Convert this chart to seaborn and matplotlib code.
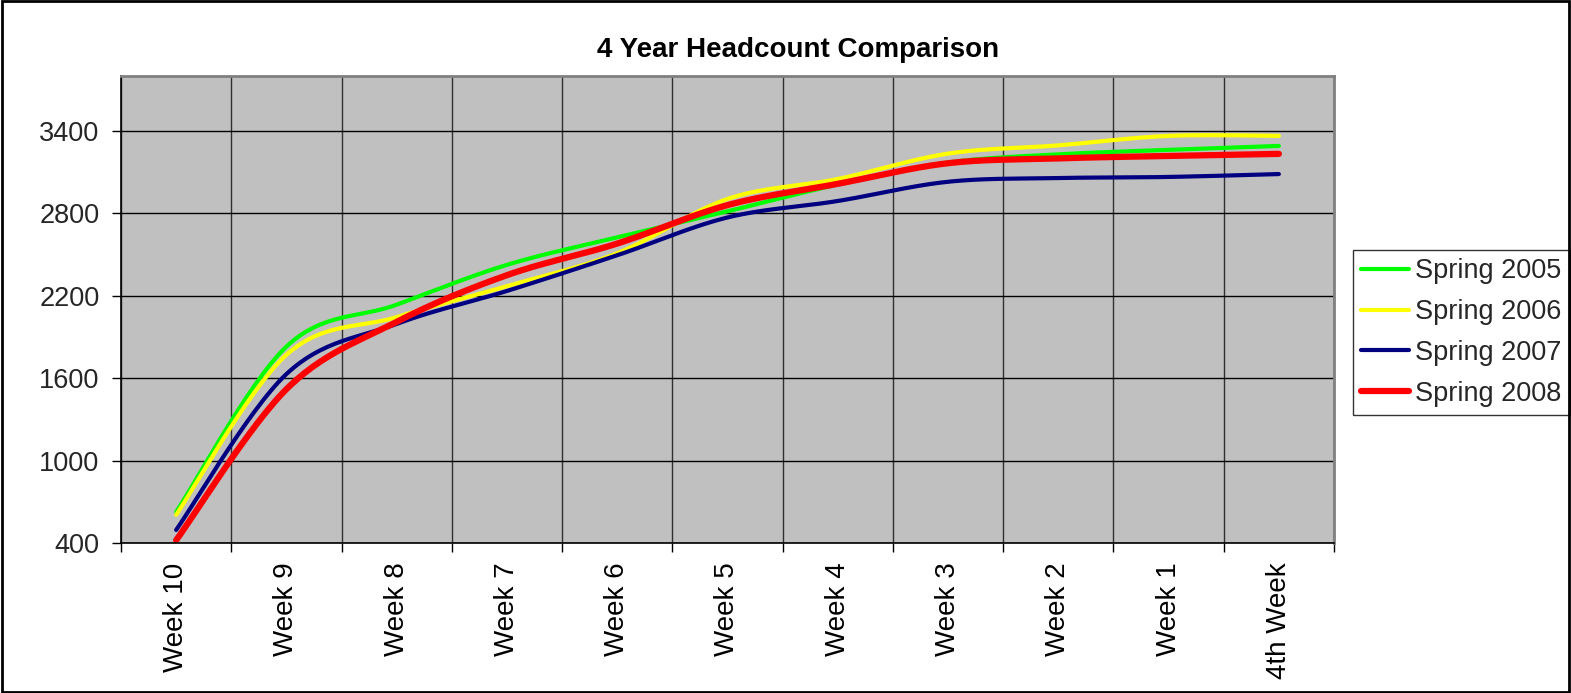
import numpy as np
import pandas as pd
import matplotlib
matplotlib.use("Agg")
import matplotlib.pyplot as plt
import seaborn as sns
from matplotlib.patches import Rectangle

weeks = ["Week 10", "Week 9", "Week 8", "Week 7", "Week 6", "Week 5",
         "Week 4", "Week 3", "Week 2", "Week 1", "4th Week"]
spring_2005 = [625, 1830, 2135, 2425, 2625, 2815, 3010, 3170, 3230, 3262, 3291]
spring_2006 = [605, 1770, 2045, 2270, 2510, 2905, 3050, 3235, 3295, 3364, 3364]
spring_2007 = [495, 1630, 1995, 2235, 2495, 2770, 2890, 3030, 3057, 3065, 3086]
spring_2008 = [420, 1520, 2010, 2350, 2580, 2860, 3015, 3165, 3200, 3218, 3233]

series_names = ["Spring 2005", "Spring 2006", "Spring 2007", "Spring 2008"]
series_values = [spring_2005, spring_2006, spring_2007, spring_2008]
colors = ["#00FF00", "#FFFF00", "#000080", "#FF0000"]
widths = [3.0, 3.0, 3.0, 4.5]


def smooth_curve(vals, n=30):
    """Excel-style smoothed line (Catmull-Rom Bezier) through the points."""
    y = np.asarray(vals, dtype=float)
    x = np.arange(len(y), dtype=float)
    xs, ys = [], []
    for i in range(len(y) - 1):
        i0 = max(i - 1, 0)
        i3 = min(i + 2, len(y) - 1)
        p0, p1, p2, p3 = (np.array([x[k], y[k]]) for k in (i0, i, i + 1, i3))
        c1 = p1 + (p2 - p0) / 6.0
        c2 = p2 - (p3 - p1) / 6.0
        t = np.linspace(0, 1, n, endpoint=(i == len(y) - 2))
        pts = ((1 - t) ** 3)[:, None] * p1 + (3 * (1 - t) ** 2 * t)[:, None] * c1 \
            + (3 * (1 - t) * t ** 2)[:, None] * c2 + (t ** 3)[:, None] * p2
        xs.append(pts[:, 0])
        ys.append(pts[:, 1])
    return np.concatenate(xs), np.concatenate(ys)


sns.set_theme(style="white")
plt.rcParams["font.family"] = ["Liberation Sans", "DejaVu Sans"]

fig = plt.figure(figsize=(15.71, 6.93), dpi=100)
ax = fig.add_axes([121 / 1571, 1 - 543 / 693, (1334 - 121) / 1571, (543 - 76) / 693])
ax.set_facecolor("#C0C0C0")

for name, vals, c, lw in zip(series_names, series_values, colors, widths):
    xs, ys = smooth_curve(vals)
    df = pd.DataFrame({"x": xs, "y": ys})
    sns.lineplot(data=df, x="x", y="y", ax=ax, color=c, linewidth=lw,
                 label=name, sort=False, estimator=None,
                 solid_capstyle="round")

ax.set_xlim(-0.5, len(weeks) - 0.5)
ax.set_ylim(400, 3800)
ax.set_yticks([400, 1000, 1600, 2200, 2800, 3400])
ax.set_yticklabels(["400", "1000", "1600", "2200", "2800", "3400"])
ax.set_xticks(np.arange(len(weeks)))
ax.set_xticklabels(weeks, rotation=90, va="top", ha="center")
ax.set_xticks(np.arange(len(weeks) + 1) - 0.5, minor=True)
ax.tick_params(axis="x", which="major", length=0, pad=14, labelsize=20, colors="black")
ax.tick_params(axis="x", which="minor", length=6.5, width=1, color="black", direction="out", bottom=True)
ax.tick_params(axis="y", which="major", length=6.5, width=1, color="black", direction="out",
               left=True, labelsize=19.5, pad=9)
ax.set_xlabel("")
ax.set_ylabel("")

ax.grid(False)
ax.yaxis.grid(True, which="major", color="black", linewidth=1)
ax.xaxis.grid(True, which="minor", color="#303030", linewidth=1)
ax.set_axisbelow(True)

for side in ["left", "bottom"]:
    ax.spines[side].set_color("black")
    ax.spines[side].set_linewidth(1.2)
for side in ["top", "right"]:
    ax.spines[side].set_color("#808080")
    ax.spines[side].set_linewidth(2)

fig.text(798 / 1571, 1 - 50 / 693, "4 Year Headcount Comparison", ha="center", va="center",
         fontsize=20, fontweight="bold", color="black")

leg = ax.legend(loc="upper left", bbox_to_anchor=(1353 / 1571, 1 - 250 / 693),
                bbox_transform=fig.transFigure, frameon=True, fancybox=False,
                fontsize=19.5, handlelength=1.75, handletextpad=0.25, labelspacing=0.55,
                borderpad=0.3, borderaxespad=0)
leg.get_frame().set_edgecolor("black")
leg.get_frame().set_linewidth(1)
leg.get_frame().set_facecolor("white")

fig.patches.append(Rectangle((0.001, 0.001), 0.998, 0.997, transform=fig.transFigure,
                             fill=False, edgecolor="black", linewidth=2))

fig.savefig("out.png", dpi=100, facecolor="white")
